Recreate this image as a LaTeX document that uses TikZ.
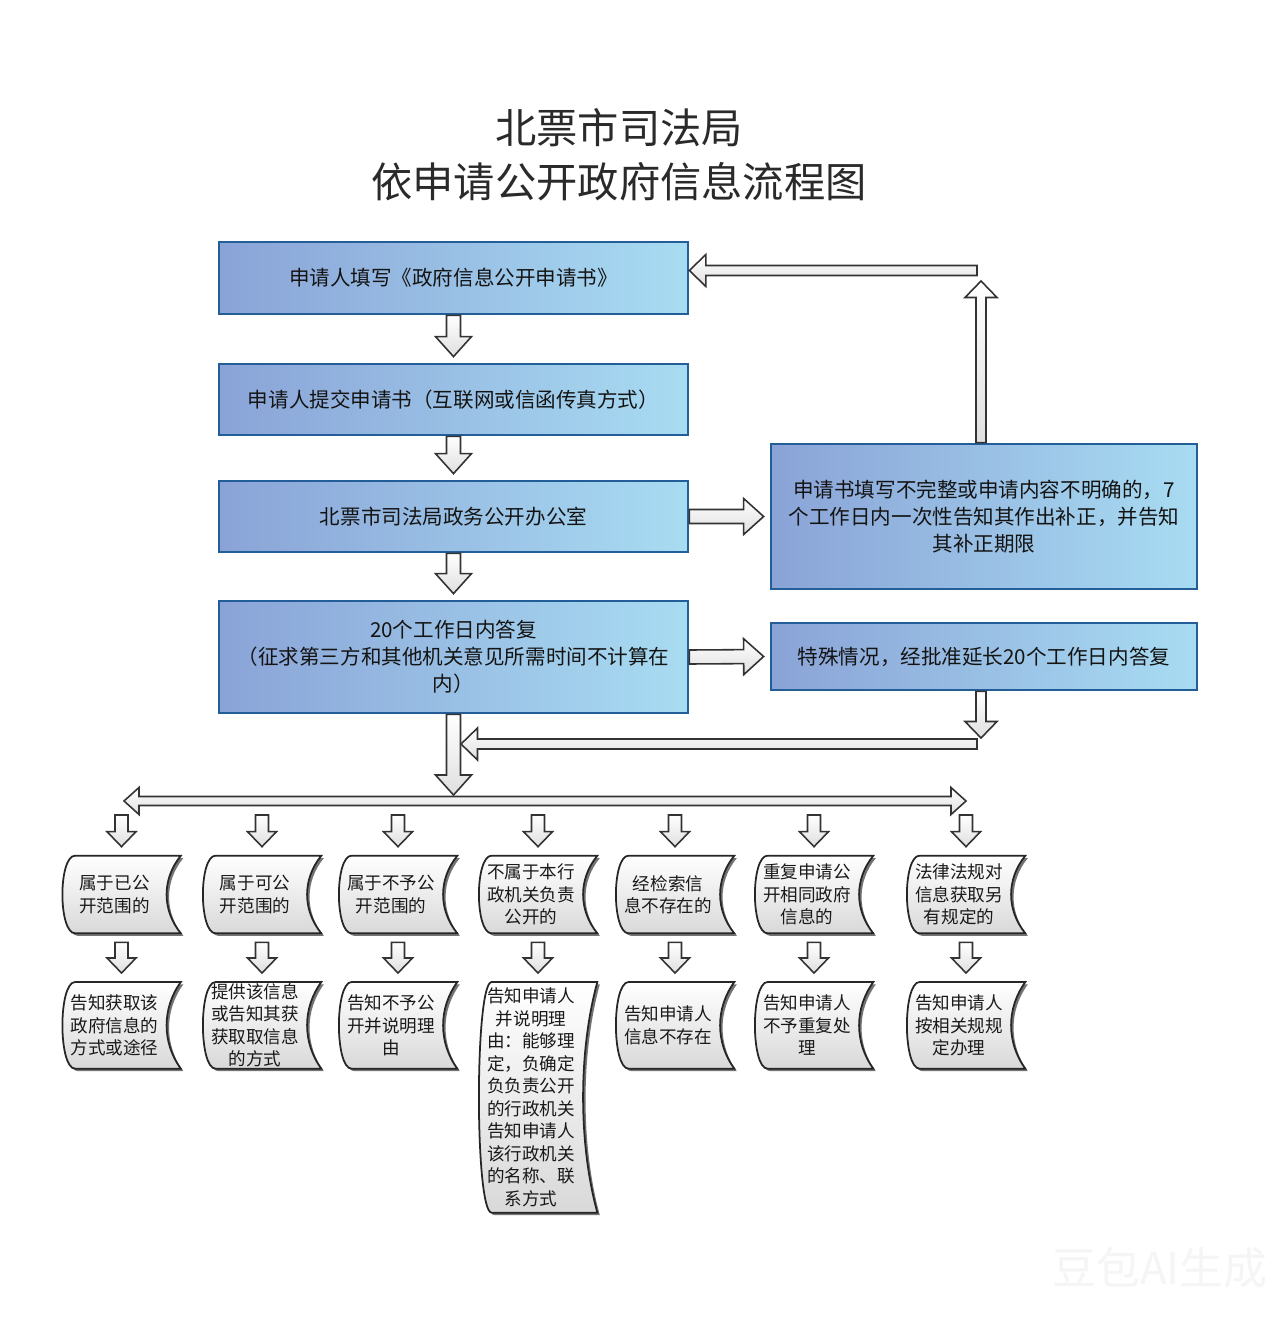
\documentclass[tikz,border=0pt]{standalone}
\usepackage{fontspec}
\setmainfont{Noto Sans CJK SC}
\usetikzlibrary{calc,shadows,backgrounds}

\definecolor{boxl}{HTML}{8AA3D7}
\definecolor{boxr}{HTML}{A8DCF2}
\definecolor{boxedge}{HTML}{245E98}
\definecolor{titlegray}{HTML}{2A2A2A}

\newcommand{\arrowsize}[3]{\def\bashaft{#1}\def\bawing{#2}\def\bahead{#3}}
\newcommand{\barrow}[2]{%
  \coordinate (ba-s) at (#1);
  \coordinate (ba-t) at (#2);
  \coordinate (ba-h) at ($(ba-t)!\bahead!(ba-s)$);
  \draw[blockarrow] ($(ba-s)!\bashaft!90:(ba-t)$) -- ($(ba-h)!\bashaft!-90:(ba-s)$)
    -- ($(ba-h)!\bawing!-90:(ba-s)$) -- (ba-t) -- ($(ba-h)!\bawing!90:(ba-s)$)
    -- ($(ba-h)!\bashaft!90:(ba-s)$) -- ($(ba-s)!\bashaft!-90:(ba-t)$) -- cycle;
}
\newcommand{\dbarrow}[2]{%
  \coordinate (ba-s) at (#1);
  \coordinate (ba-t) at (#2);
  \coordinate (ba-hs) at ($(ba-s)!\bahead!(ba-t)$);
  \coordinate (ba-ht) at ($(ba-t)!\bahead!(ba-s)$);
  \draw[blockarrow] (ba-s) -- ($(ba-hs)!\bawing!90:(ba-t)$) -- ($(ba-hs)!\bashaft!90:(ba-t)$)
    -- ($(ba-ht)!\bashaft!-90:(ba-s)$) -- ($(ba-ht)!\bawing!-90:(ba-s)$) -- (ba-t)
    -- ($(ba-ht)!\bawing!90:(ba-s)$) -- ($(ba-ht)!\bashaft!90:(ba-s)$)
    -- ($(ba-hs)!\bashaft!-90:(ba-t)$) -- ($(ba-hs)!\bawing!-90:(ba-t)$) -- cycle;
}
\newcommand{\cardline}[1]{%
  \begin{pgfonlayer}{background}
  \draw[card] ($(#1.north west)+(12,0)$) -- ($(#1.north east)+(15,0)$)
    .. controls ($(#1.north east)!0.3!(#1.south east)+(-4,0)$) and ($(#1.south east)!0.3!(#1.north east)+(-4,0)$) .. ($(#1.south east)+(15,0)$)
    -- ($(#1.south west)+(12,0)$)
    .. controls ($(#1.south west)+(-5,0)$) and ($(#1.north west)+(-5,0)$) .. ($(#1.north west)+(12,0)$) -- cycle;
  \end{pgfonlayer}
}

\begin{document}
\begin{tikzpicture}[x=0.02cm, y=-0.02cm]
\tikzstyle{infobox}=[draw=boxedge, line width=1.6pt, left color=boxl, right color=boxr, minimum width=9.38cm, align=center, text=black!92, font=\fontsize{11.7}{15.4}\selectfont]
\tikzstyle{sidebox}=[infobox, minimum width=8.52cm]
\tikzstyle{cardtext}=[inner sep=0pt, minimum width=2.04cm, text width=1.95cm, align=center, text=black!90, font=\fontsize{10}{12.8}\selectfont]
\tikzstyle{card}=[draw=black!85, line width=1pt, top color=white, bottom color=gray!30, drop shadow={shadow xshift=1.4pt, shadow yshift=-1.4pt, opacity=0.55, fill=black}]
\tikzstyle{blockarrow}=[draw=black!80, line width=0.9pt, line join=miter, top color=white, bottom color=gray!25]

\useasboundingbox (0,0) rectangle (1279,1318);
\begin{pgfonlayer}{background}
\fill[white] (0,0) rectangle (1279,1318);
\end{pgfonlayer}

\node[text=titlegray, align=center, font=\fontsize{23.5}{30.7}\selectfont] (title) at (619,155) {北票市司法局\\依申请公开政府信息流程图};

\node[infobox, minimum height=1.44cm] (apply) at (453.5,278) {申请人填写《政府信息公开申请书》};
\node[infobox, minimum height=1.42cm] (submit) at (453.5,399.5) {申请人提交申请书（互联网或信函传真方式）};
\node[infobox, minimum height=1.42cm] (office) at (453.5,516.5) {北票市司法局政务公开办公室};
\node[infobox, minimum height=2.24cm] (reply) at (453.5,657) {20个工作日内答复\\（征求第三方和其他机关意见所需时间不计算在\\内）};
\node[sidebox, minimum height=2.9cm] (amend) at (984,516.5) {申请书填写不完整或申请内容不明确的，7\\个工作日内一次性告知其作出补正，并告知\\其补正期限};
\node[sidebox, minimum height=1.34cm] (extend) at (984,656.5) {特殊情况，经批准延长20个工作日内答复};

\arrowsize{0.14cm}{0.36cm}{0.4cm}
\barrow{apply.south}{$(submit.north)+(0,-6)$}
\barrow{submit.south}{$(office.north)+(0,-6)$}
\barrow{office.south}{$(reply.north)+(0,-6)$}
\barrow{office.east}{$(amend.west)+(-6,0)$}
\barrow{reply.east}{$(extend.west)+(-6,0)$}

% back to the form
\arrowsize{0.1cm}{0.32cm}{0.33cm}
\coordinate (up-end) at (981,281);
\coordinate (back-start) at (977,270.5);
\barrow{amend.north -| up-end}{up-end}
\barrow{back-start}{apply.east |- back-start}

% extension joins the reply
\coordinate (down-end) at (981,738);
\coordinate (merge-start) at (977,744);
\coordinate (merge-end) at (461,744);
\barrow{merge-start}{merge-end}
\barrow{extend.south -| down-end}{down-end}

\arrowsize{0.14cm}{0.36cm}{0.4cm}
\coordinate (fork) at (453.5,795);
\barrow{reply.south}{fork}

\arrowsize{0.09cm}{0.27cm}{0.3cm}
\coordinate (spread-l) at (124,801);
\coordinate (spread-r) at (966,801);
\dbarrow{spread-l}{spread-r}

\arrowsize{0.13cm}{0.29cm}{0.3cm}
\foreach \i/\x/\h/\ta/\tb in {
  1/121.5/1.72cm/{属于已公\\开范围的}/{告知获取该\\政府信息的\\方式或途径},
  2/262/1.72cm/{属于可公\\开范围的}/{提供该信息\\或告知其获\\获取取信息\\的方式},
  3/398/1.72cm/{属于不予公\\开范围的}/{告知不予公\\开并说明理\\由},
  4/538/4.6cm/{不属于本行\\政机关负责\\公开的}/{告知申请人\\并说明理\\由：能够理\\定，负确定\\负负责公开\\的行政机关\\告知申请人\\该行政机关\\的名称、联\\系方式},
  5/675/1.72cm/{经检索信\\息不存在的}/{告知申请人\\信息不存在},
  6/814/1.72cm/{重复申请公\\开相同政府\\信息的}/{告知申请人\\不予重复处\\理},
  7/966/1.72cm/{法律法规对\\信息获取另\\有规定的}/{告知申请人\\按相关规规\\定办理}}
{
  \node[cardtext, minimum height=1.54cm] (case\i) at (\x-7,894.5) {\ta};
  \node[cardtext, minimum height=\h, anchor=north] (result\i) at (\x-7,982) {\tb};
  \cardline{case\i}
  \cardline{result\i}
  \barrow{\x,815}{$(case\i.north)+(7,-9)$}
  \barrow{$(case\i.south)+(7,9)$}{$(result\i.north)+(7,-9)$}
}

\node[text=black!4, font=\fontsize{25}{25}\selectfont] (mark) at (1160,1268) {豆包AI生成};
\end{tikzpicture}
\end{document}
